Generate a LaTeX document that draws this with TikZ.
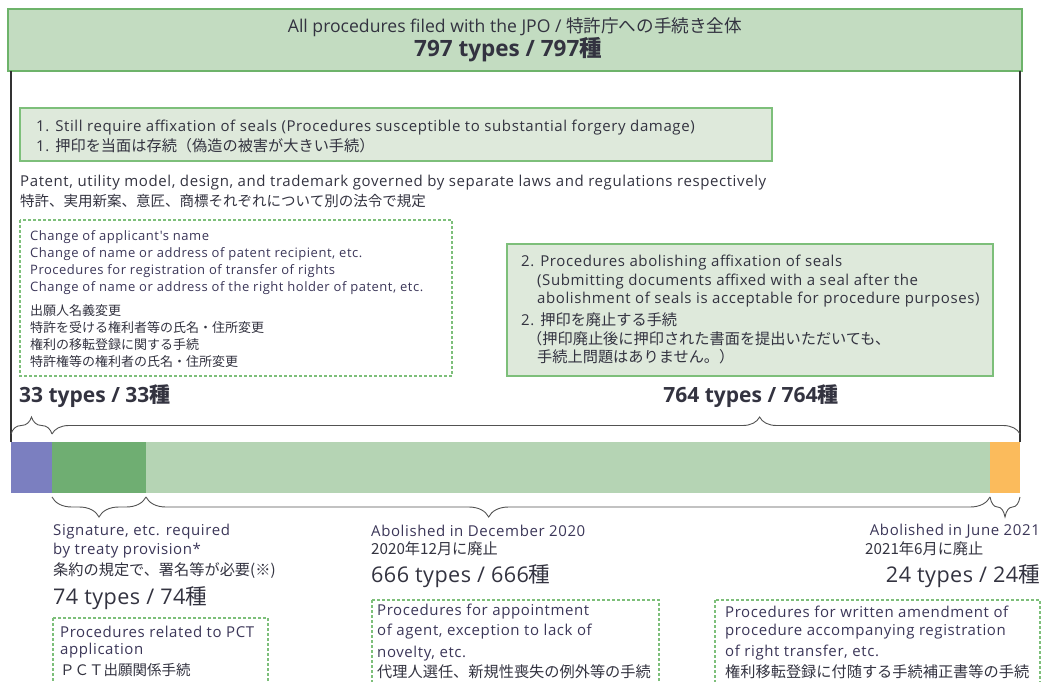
\documentclass[tikz,border=0pt]{standalone}
\usepackage{fontspec}
\setmainfont{Open Sans}
\newfontfamily\bodyf{Open Sans}[LetterSpace=4]
\newfontfamily\numf{Open Sans}[LetterSpace=2]
\newfontfamily\jp{Noto Sans CJK JP}
\usetikzlibrary{decorations.pathreplacing}
\definecolor{topfill}{HTML}{C3DCC1}
\definecolor{topline}{HTML}{6DB36A}
\definecolor{boxfill}{HTML}{DEE9DB}
\definecolor{boxline}{HTML}{7DBF7A}
\definecolor{dashc}{HTML}{7DBF7A}
\definecolor{barpurple}{HTML}{7B7FC0}
\definecolor{bardark}{HTML}{6FAE72}
\definecolor{barlight}{HTML}{B5D4B4}
\definecolor{barorange}{HTML}{FBBB5C}
\definecolor{txtc}{HTML}{333340}
\definecolor{engc}{HTML}{3B3658}
\definecolor{framec}{HTML}{333333}
\newcommand\fsT{\fontsize{17.6}{19}\selectfont}
\newcommand\fsB{\bodyf\fontsize{15}{17}\selectfont}
\newcommand\fsJ{\jp\fontsize{15.2}{17}\selectfont}
\newcommand\fsJn{\jp\fontsize{14.5}{16}\selectfont}
\newcommand\fsS{\bodyf\fontsize{13}{15}\selectfont}
\newcommand\fsSJ{\jp\fontsize{13}{15}\selectfont}
\newcommand\fsN{\numf\fontsize{21.6}{23}\selectfont}
\newcommand\fsBN{\bfseries\fontsize{21}{23}\selectfont}
\begin{document}
\begin{tikzpicture}[x=1pt,y=-1pt,
  txt/.style={anchor=west, inner sep=0pt, text=txtc, font=\fsB},
  jtx/.style={anchor=west, inner sep=0pt, text=txtc, font=\fsJ},
  eng/.style={anchor=west, inner sep=0pt, text=engc, font=\fsS},
  jps/.style={anchor=west, inner sep=0pt, text=txtc, font=\fsSJ},
  num/.style={inner sep=0pt, text=txtc, font=\fsN},
  bnum/.style={inner sep=0pt, text=txtc, font=\fsBN},
  greenbox/.style={draw=boxline, fill=boxfill, line width=1.3pt},
  dbox/.style={draw=dashc, line width=1.1pt, dash pattern=on 3pt off 2pt},
  brc/.style={draw=framec!85, line width=0.9pt, decorate}
]
\useasboundingbox (0,0) rectangle (1046,682);
% top box
\path[draw=topline, fill=topfill, line width=1.3pt] (8,9) rectangle (1022,71);
\node[inner sep=0pt, text=txtc, font=\fsT] (title) at (515,27) {All procedures filed with the JPO / {\jp 特許庁への手続き全体}};
\node[bnum, font=\bfseries\fontsize{22.5}{24}\selectfont] (total) at (508,50) {797 types / 797{\jp\bfseries 種}};
% frame
\coordinate (fl) at (11,71);
\coordinate (fr) at (1020,71);
\coordinate (bl) at (11,442);
\coordinate (br) at (1020,442);
\draw[framec, line width=1.5pt] (fl) -- (bl);
\draw[framec, line width=1.5pt] (fr) -- (br);
% box 1
\path[greenbox] (20,108) rectangle (772,161);
\node[txt] (b1a) at (36,128) {1. Still require affixation of seals (Procedures susceptible to substantial forgery damage)};
\node[txt] (b1b) at (36,146) {1. {\fsJ 押印を当面は存続（偽造の被害が大きい手続）}};
\node[txt] (pa) at (20,183) {Patent, utility model, design, and trademark governed by separate laws and regulations respectively};
\node[jtx, font=\fsJn] (pb) at (20,201) {特許、実用新案、意匠、商標それぞれについて別の法令で規定};
% dashed box A
\path[dbox] (20,220) rectangle (452,376);
\node[eng] (a1) at (30,237) {Change of applicant's name};
\node[eng] (a2) at (30,254) {Change of name or address of patent recipient, etc.};
\node[eng] (a3) at (30,271) {Procedures for registration of transfer of rights};
\node[eng] (a4) at (30,288) {Change of name or address of the right holder of patent, etc.};
\node[jps] (a5) at (30,311) {出願人名義変更};
\node[jps] (a6) at (30,328) {特許を受ける権利者等の氏名・住所変更};
\node[jps] (a7) at (30,345) {権利の移転登録に関する手続};
\node[jps] (a8) at (30,362) {特許権等の権利者の氏名・住所変更};
\node[bnum, anchor=west] (n33) at (19,396) {33 types / 33{\jp\bfseries 種}};
% box 2
\path[greenbox] (507,244) rectangle (993,376);
\node[txt] (c1) at (521,263) {2. Procedures abolishing affixation of seals};
\node[txt] (c2) at (537,282) {(Submitting documents affixed with a seal after the};
\node[txt] (c3) at (537,300) {abolishment of seals is acceptable for procedure purposes)};
\node[txt] (c4) at (521,320) {2. {\fsJ 押印を廃止する手続}};
\node[jtx] (c5) at (527,339) {（押印廃止後に押印された書面を提出いただいても、};
\node[jtx] (c6) at (537,357) {手続上問題はありません。）};
\node[bnum] (n764) at (751,396) {764 types / 764{\jp\bfseries 種}};
% bar
\coordinate (s0) at (11,442);
\coordinate (s1) at (52,442);
\coordinate (s2) at (146,442);
\coordinate (s3) at (990,442);
\coordinate (s4) at (1020,442);
\fill[barpurple] (11,442) rectangle (52,493);
\fill[bardark] (52,442) rectangle (146,493);
\fill[barlight] (146,442) rectangle (990,493);
\fill[barorange] (990,442) rectangle (1020,493);
% braces above
\draw[brc, decoration={brace, amplitude=17pt}] (11,434) -- (52,434);
\draw[brc, decoration={brace, amplitude=17pt, aspect=0.731}] (52,434) -- (1020,434);
% braces below
\draw[brc, decoration={brace, mirror, amplitude=20pt}] (52,497) -- (146,497);
\draw[brc, decoration={brace, mirror, amplitude=20pt, aspect=0.406}] (146,497) -- (990,497);
\draw[brc, decoration={brace, mirror, amplitude=20pt}] (990,497) -- (1020,497);
% lower left
\node[eng, font=\fsB] (d1) at (53,532) {Signature, etc. required};
\node[eng, font=\fsB] (d2) at (53,551) {by treaty provision*};
\node[jtx] (d3) at (53,571) {条約の規定で、署名等が必要(※)};
\node[num, anchor=west] (n74) at (53,598) {74 types / 74{\jp 種}};
\path[dbox] (53,618) rectangle (268,692);
\node[eng, font=\fsB] (e1) at (60,632) {Procedures related to PCT};
\node[eng, font=\fsB] (e2) at (60,651) {application};
\node[jtx, font=\fsJn] (e3) at (60,670) {ＰＣＴ出願関係手続};
% lower middle
\node[eng, font=\fsB] (f1) at (371,531) {Abolished in December 2020};
\node[jtx] (f2) at (371,549) {2020年12月に廃止};
\node[num, anchor=west] (n666) at (371,576) {666 types / 666{\jp 種}};
\path[dbox] (372,600) rectangle (659,692);
\node[eng, font=\fsB] (g1) at (377,612) {Procedures for appointment};
\node[eng, font=\fsB] (g2) at (377,632) {of agent, exception to lack of};
\node[eng, font=\fsB] (g3) at (377,654) {novelty, etc.};
\node[jtx] (g4) at (377,672) {代理人選任、新規性喪失の例外等の手続};
% lower right
\node[eng, font=\fsB, anchor=east] (h1) at (1040,531) {Abolished in June 2021};
\node[jtx] (h2) at (865,549) {2021年6月に廃止};
\node[num, anchor=east] (n24) at (1040,576) {24 types / 24{\jp 種}};
\path[dbox] (715,600) rectangle (1040,692);
\node[eng, font=\fsB] (i1) at (725,612) {Procedures for written amendment of};
\node[eng, font=\fsB] (i2) at (725,632) {procedure accompanying registration};
\node[eng, font=\fsB] (i3) at (725,653) {of right transfer, etc.};
\node[jtx] (i4) at (725,672) {権利移転登録に付随する手続補正書等の手続};
\end{tikzpicture}
\end{document}
